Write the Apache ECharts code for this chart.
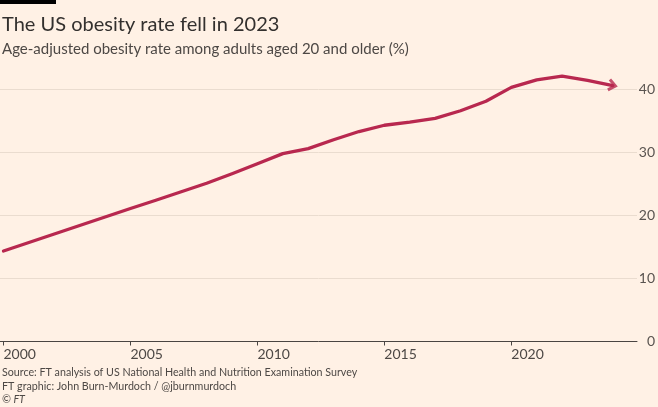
<!DOCTYPE html>
<html><head><meta charset="utf-8">
<script src="https://cdn.jsdelivr.net/npm/echarts@6/dist/echarts.min.js"></script>
<style>html,body{margin:0;padding:0;background:#fff1e5}#c{width:658px;height:407px}</style>
</head><body><div id="c"></div>
<script>
// ---- data ----
const years = [2000,2001,2002,2003,2004,2005,2006,2007,2008,2009,2010,2011,2012,2013,2014,2015,2016,2017,2018,2019,2020,2021,2022,2023,2024];
const obesityRate = [14.35,15.7,17.05,18.4,19.75,21.1,22.4,23.75,25.1,26.6,28.2,29.8,30.6,32.0,33.3,34.3,34.8,35.4,36.6,38.1,40.3,41.5,42.1,41.4,40.6];
const xTickYears = [2000,2005,2010,2015,2020];
const yTicks = [0,10,20,30,40];
const titleText = 'The US obesity rate fell in 2023';
const subtitleText = 'Age-adjusted obesity rate among adults aged 20 and older (%)';
const sourceLines = [
  'Source: FT analysis of US National Health and Nutrition Examination Survey',
  'FT graphic: John Burn-Murdoch / @jburnmurdoch',
  '\u00A9 FT'
];

const FONT = 'Lato, "Noto Sans", sans-serif';
const lineColor = '#b8284f';
const chart = echarts.init(document.getElementById('c'), null, {renderer:'canvas'});
const pts = years.map((y,i)=>[y, obesityRate[i]]);
const last = pts[pts.length-1];
const chevron = 'path://M5,0 L10,6.5 L8.2,8 L5,4 L1.8,8 L0,6.5 Z';

const option = {
  backgroundColor: '#fff1e5',
  animation: false,
  grid: {left: 0, right: 20, top: 89.3, bottom: 65.5, containLabel: false},
  xAxis: {
    type: 'value', min: 1999.862, max: 2024.95,
    axisLine: {show: true, lineStyle: {color: '#4a4542', width: 1}},
    axisTick: {show: true, length: 4, customValues: xTickYears, lineStyle: {color: '#4a4542'}},
    axisLabel: {customValues: xTickYears, align: 'left', margin: 6, color: '#4d4845', fontSize: 14, fontFamily: FONT,
      formatter: v => String(Math.round(v))},
    splitLine: {show: false}
  },
  yAxis: {
    type: 'value', position: 'right', min: yTicks[0], max: yTicks[yTicks.length-1], interval: 10,
    axisLine: {show: false}, axisTick: {show: false},
    axisLabel: {align: 'right', margin: 18, color: '#5a5450', fontSize: 14, fontFamily: FONT},
    splitLine: {show: true, lineStyle: {color: '#eadccf', width: 1}}
  },
  series: [
    {type: 'line', data: pts, symbol: 'none', clip: false, z: 3,
     lineStyle: {color: lineColor, width: 3.3, join: 'round', cap: 'round'}},
    {type: 'scatter', data: [last], clip: false, z: 4, symbol: chevron, symbolSize: [13, 10],
     symbolRotate: -104, itemStyle: {color: lineColor}}
  ],
  graphic: [
    {type: 'rect', left: 0, top: 0, shape: {width: 56, height: 4}, style: {fill: '#000'}},
    {type: 'text', x: 2, y: 25, style: {text: titleText, font: '400 20px ' + FONT, fill: '#33302e', verticalAlign: 'middle'}},
    {type: 'text', x: 2, y: 49.5, style: {text: subtitleText, font: '400 15px ' + FONT, fill: '#4d4845', verticalAlign: 'middle'}},
    {type: 'text', x: 2, y: 373, style: {text: sourceLines[0], font: '400 10.7px ' + FONT, fill: '#4d4845', verticalAlign: 'middle'}},
    {type: 'text', x: 2, y: 386.5, style: {text: sourceLines[1], font: '400 10.7px ' + FONT, fill: '#4d4845', verticalAlign: 'middle'}},
    {type: 'text', x: 2, y: 399.5, style: {text: sourceLines[2], font: 'italic 400 10.7px ' + FONT, fill: '#4d4845', verticalAlign: 'middle'}}
  ]
};
chart.setOption(option);
// orient the arrowhead along the final line segment
const p1 = chart.convertToPixel({seriesIndex: 0}, pts[pts.length-2]);
const p2 = chart.convertToPixel({seriesIndex: 0}, last);
const ang = Math.atan2(-(p2[1]-p1[1]), p2[0]-p1[0]) * 180 / Math.PI;
chart.setOption({series: [{}, {symbolRotate: ang - 90}]});
</script>
</body></html>
